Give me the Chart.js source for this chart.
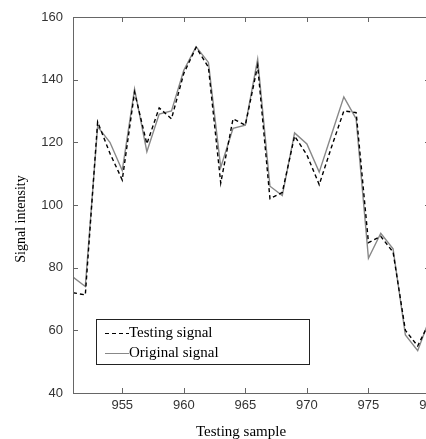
<!DOCTYPE html>
<html>
<head>
<meta charset="utf-8">
<script src="https://cdn.jsdelivr.net/npm/chart.js@4/dist/chart.umd.min.js"></script>
<style>
html,body{margin:0;padding:0;background:#fff;overflow:hidden;width:426px;height:439px;}
#wrap{position:relative;width:426px;height:439px;overflow:hidden;}
canvas{display:block;}
</style>
</head>
<body>
<div id="wrap"><canvas id="c" width="432" height="439" style="width:432px;height:439px"></canvas></div>
<script>
const samples = [951,952,953,954,955,956,957,958,959,960,961,962,963,964,965,966,967,968,969,970,971,972,973,974,975,976,977,978,979,980];
const originalSignal = [77,74,125,120,111,137,117,129,130,143,150.5,145.5,112,124.5,125.5,146.5,106,103,123,119.5,110.5,122.5,134.5,127.5,83,91,86,58.5,53.5,64];
const testingSignal = [72,71.3,126.5,116.5,108,136,119.5,131,127.5,142,150.3,144,107,127.5,125.5,144.5,102,104,122,116,106.5,118.5,130,129.5,88,90,85,60,55,63];
const xTickValues = [955,960,965,970,975,980];
const yTickValues = [40,60,80,100,120,140,160];
const xTitle = 'Testing sample';
const yTitle = 'Signal intensity';

const toPoints = arr => samples.map((s,i)=>({x:s,y:arr[i]}));
const serif = '"Liberation Serif", "Times New Roman", serif';

const framePlugin = {
  id:'frame',
  afterDraw(chart){
    const ctx = chart.ctx;
    const {left,right,top,bottom} = chart.chartArea;
    const xs = chart.scales.x, ys = chart.scales.y;
    ctx.save();
    ctx.strokeStyle = '#666';
    ctx.lineWidth = 1;
    ctx.strokeRect(Math.round(left)+0.5, Math.round(top)+0.5, Math.round(right-left), Math.round(bottom-top));
    const tl = 5;
    ctx.beginPath();
    xs.ticks.forEach(t=>{
      const px = Math.round(xs.getPixelForValue(t.value))+0.5;
      ctx.moveTo(px,bottom); ctx.lineTo(px,bottom-tl);
      ctx.moveTo(px,top); ctx.lineTo(px,top+tl);
    });
    ys.ticks.forEach(t=>{
      const py = Math.round(ys.getPixelForValue(t.value))+0.5;
      ctx.moveTo(left,py); ctx.lineTo(left+tl,py);
      ctx.moveTo(right,py); ctx.lineTo(right-tl,py);
    });
    ctx.stroke();

    // legend
    const bx=96.5, by=319.5, bw=213, bh=45;
    ctx.fillStyle='#fff';
    ctx.fillRect(bx,by,bw,bh);
    ctx.strokeStyle='#222';
    ctx.strokeRect(bx,by,bw,bh);
    ctx.font='15px '+serif;
    ctx.textBaseline='middle';
    ctx.textAlign='left';
    [0,1].forEach((di,k)=>{
      const ds = chart.data.datasets[di];
      const y = 333 + k*20 + 0.5;
      ctx.beginPath();
      ctx.strokeStyle = ds.borderColor;
      ctx.lineWidth = 1;
      ctx.setLineDash(ds.borderDash||[]);
      ctx.moveTo(105,y); ctx.lineTo(129,y);
      ctx.stroke();
      ctx.setLineDash([]);
      ctx.fillStyle='#000';
      ctx.fillText(ds.label,129,y);
    });

    // axis titles
    ctx.fillStyle='#000';
    ctx.textAlign='center';
    ctx.textBaseline='middle';
    ctx.font='15px '+serif;
    ctx.fillText(xTitle, 241, 432);
    ctx.translate(21, 219);
    ctx.rotate(-Math.PI/2);
    ctx.font='14px '+serif;
    ctx.fillText(yTitle, 0, 0);
    ctx.restore();
  }
};

new Chart(document.getElementById('c'), {
  type:'line',
  data:{
    datasets:[
      {label:'Testing signal', data:toPoints(testingSignal), borderColor:'#000', borderWidth:1.4, borderDash:[4,3], pointRadius:0, tension:0, fill:false},
      {label:'Original signal', data:toPoints(originalSignal), borderColor:'#888', borderWidth:1.4, pointRadius:0, tension:0, fill:false}
    ]
  },
  options:{
    responsive:false,
    animation:false,
    devicePixelRatio:1,
    layout:{padding:{top:17,right:2,left:0,bottom:0}},
    plugins:{legend:{display:false}, tooltip:{enabled:false}},
    scales:{
      x:{
        type:'linear', min:samples[0], max:samples[samples.length-1],
        afterBuildTicks(s){ s.ticks = xTickValues.map(v=>({value:v})); },
        afterFit(s){ s.height = 46; s.paddingLeft = 0; s.paddingRight = 0; },
        grid:{display:false, drawTicks:false},
        border:{display:false},
        ticks:{padding:5, color:'#333', font:{family:'"Liberation Sans", Arial, sans-serif', size:13}, maxRotation:0, autoSkip:false}
      },
      y:{
        type:'linear', min:yTickValues[0], max:yTickValues[yTickValues.length-1],
        afterBuildTicks(s){ s.ticks = yTickValues.map(v=>({value:v})); },
        afterFit(s){ s.width = 73; s.paddingTop = 0; s.paddingBottom = 0; },
        grid:{display:false, drawTicks:false},
        border:{display:false},
        ticks:{padding:10, color:'#333', font:{family:'"Liberation Sans", Arial, sans-serif', size:13}}
      }
    }
  },
  plugins:[framePlugin]
});
</script>
</body>
</html>
